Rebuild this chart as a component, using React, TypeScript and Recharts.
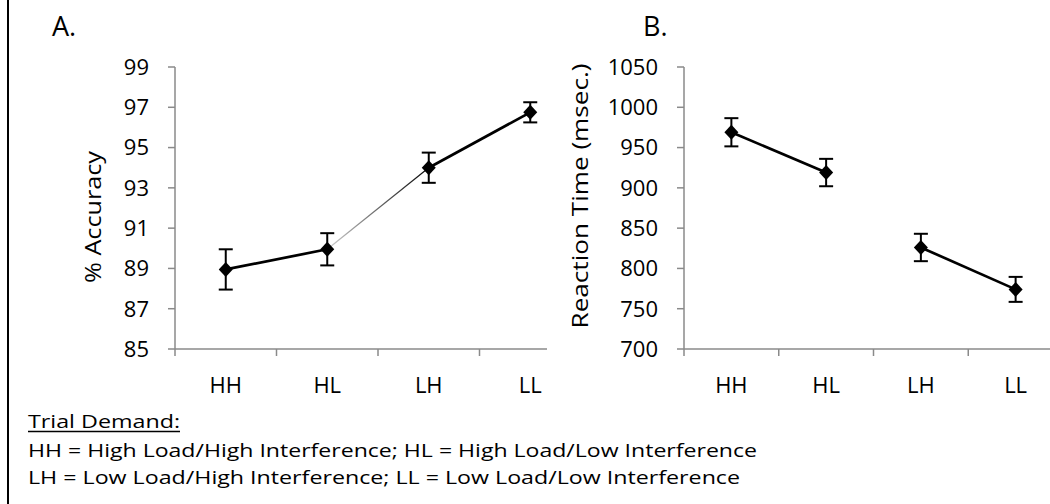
import React from 'react';
import { LineChart, Line, XAxis, YAxis, ErrorBar, Label } from 'recharts';

const categories = ['HH', 'HL', 'LH', 'LL'];

// Panel A: % accuracy with standard error
const accuracyMean = [88.95, 89.95, 94.0, 96.75];
const accuracyErr = [1.0, 0.8, 0.75, 0.5];
const accuracyTicks = [85, 87, 89, 91, 93, 95, 97, 99];

// Panel B: reaction time (msec.) with standard error
const rtMean = [969, 919, 826, 774];
const rtErr = [17.5, 17, 17, 15.5];
const rtTicks = [700, 750, 800, 850, 900, 950, 1000, 1050];

// category boundaries get tick marks, category centres get labels
const xTicks = [0, 0.5, 1, 1.5, 2, 2.5, 3, 3.5, 4];

const AXIS = '#8a8a8a';
const FONT = '"Open Sans", sans-serif';

type Segment = { from: number; to: number; fade?: boolean };

const accuracySegments: Segment[] = [
  { from: 0, to: 1 },
  { from: 1, to: 2, fade: true },
  { from: 2, to: 3 },
];
const rtSegments: Segment[] = [
  { from: 0, to: 1 },
  { from: 2, to: 3 },
];

function buildRows(mean: number[], err: number[], segments: Segment[]) {
  return categories.map((name, i) => {
    const row: Record<string, number | string | null> = { x: i + 0.5, name, mean: mean[i], err: err[i] };
    segments.forEach((s, k) => {
      row['seg' + k] = i === s.from || i === s.to ? mean[i] : null;
    });
    return row;
  });
}

const accuracyRows = buildRows(accuracyMean, accuracyErr, accuracySegments);
const rtRows = buildRows(rtMean, rtErr, rtSegments);

const Diamond = (props: any) => {
  const { cx, cy } = props;
  if (cx == null || cy == null) return null;
  return <path d={`M${cx},${cy - 7.5} L${cx + 7},${cy} L${cx},${cy + 7.5} L${cx - 7},${cy} Z`} fill="#000" />;
};

const CategoryTick = (props: any) => {
  const { x, y, payload } = props;
  const v = payload.value as number;
  if (Number.isInteger(v)) {
    return <line x1={x} y1={y} x2={x} y2={y + 7} stroke={AXIS} strokeWidth={1.5} />;
  }
  return (
    <text x={x} y={y + 44} textAnchor="middle" fontSize={22} fill="#000">
      {categories[Math.floor(v)]}
    </text>
  );
};

function axisTitle(text: string, cx: number, cy: number, length: number) {
  return () => (
    <text
      x={cx}
      y={cy}
      transform={`rotate(-90, ${cx}, ${cy})`}
      textAnchor="middle"
      dominantBaseline="central"
      fontSize={22}
      fill="#000"
      textLength={length}
      lengthAdjust="spacingAndGlyphs"
    >
      {text}
    </text>
  );
}

type PanelProps = {
  rows: any[];
  segments: Segment[];
  domain: [number, number];
  ticks: number[];
  width: number;
  margin: { top: number; right: number; bottom: number; left: number };
  yAxisWidth: number;
  title: () => React.ReactElement;
  gradientId: string;
};

function Panel({ rows, segments, domain, ticks, width, margin, yAxisWidth, title, gradientId }: PanelProps) {
  return (
    <LineChart width={width} height={420} data={rows} margin={margin}>
      <defs>
        <linearGradient id={gradientId} x1="0" y1="0" x2="1" y2="0">
          <stop offset="0%" stopColor="#d0d0d0" />
          <stop offset="100%" stopColor="#000" />
        </linearGradient>
      </defs>
      <XAxis
        type="number"
        dataKey="x"
        domain={[0, 4]}
        ticks={xTicks}
        interval={0}
        tickSize={0}
        tickMargin={0}
        tickLine={false}
        axisLine={{ stroke: AXIS, strokeWidth: 1.5 }}
        tick={CategoryTick}
        height={60}
      />
      <YAxis
        type="number"
        domain={domain}
        ticks={ticks}
        interval={0}
        width={yAxisWidth}
        tickSize={7}
        tickMargin={19}
        tickLine={{ stroke: AXIS, strokeWidth: 1.5 }}
        axisLine={{ stroke: AXIS, strokeWidth: 1.5 }}
        tick={{ fill: '#000', fontSize: 22 }}
      >
        <Label content={title} />
      </YAxis>
      {segments.map((s, k) => (
        <Line
          key={k}
          type="linear"
          dataKey={'seg' + k}
          stroke={s.fade ? `url(#${gradientId})` : '#000'}
          strokeWidth={s.fade ? 1.2 : 2.7}
          dot={false}
          activeDot={false}
          isAnimationActive={false}
        />
      ))}
      <Line
        type="linear"
        dataKey="mean"
        stroke="none"
        dot={<Diamond />}
        activeDot={false}
        isAnimationActive={false}
      >
        <ErrorBar dataKey="err" direction="y" width={7} stroke="#000" strokeWidth={2} />
      </Line>
    </LineChart>
  );
}

export default function App() {
  return (
    <div
      style={{
        position: 'absolute',
        left: 0,
        top: 0,
        width: 1050,
        height: 504,
        overflow: 'hidden',
        background: '#fff',
        fontFamily: FONT,
      }}
    >
      <div style={{ position: 'absolute', left: 7, top: 0, width: 2, height: 504, background: '#000' }} />

      <div style={{ position: 'absolute', left: 0, top: 0 }}>
        <Panel
          rows={accuracyRows}
          segments={accuracySegments}
          domain={[85, 99]}
          ticks={accuracyTicks}
          width={600}
          margin={{ top: 67, right: 19, bottom: 11, left: 75 }}
          yAxisWidth={100}
          title={axisTitle('% Accuracy', 92, 217, 132)}
          gradientId="fadeA"
        />
      </div>

      <div style={{ position: 'absolute', left: 547, top: 0, background: '#fff' }}>
        <Panel
          rows={rtRows}
          segments={rtSegments}
          domain={[700, 1050]}
          ticks={rtTicks}
          width={520}
          margin={{ top: 67, right: 4, bottom: 11, left: 57 }}
          yAxisWidth={80}
          title={axisTitle('Reaction Time (msec.)', 32, 196, 265)}
          gradientId="fadeB"
        />
      </div>

      <svg
        width={1050}
        height={504}
        style={{ position: 'absolute', left: 0, top: 0, pointerEvents: 'none' }}
        fontFamily={FONT}
      >
        <text x={52} y={36} fontSize={27} fill="#000">A.</text>
        <text x={643} y={36} fontSize={27} fill="#000">B.</text>

        <text x={28} y={428} fontSize={18} fill="#000" textLength={152} lengthAdjust="spacingAndGlyphs">
          Trial Demand:
        </text>
        <line x1={28} y1={431.5} x2={180} y2={431.5} stroke="#000" strokeWidth={1.3} />
        <text x={28} y={456.5} fontSize={18} fill="#000" textLength={729} lengthAdjust="spacingAndGlyphs">
          HH = High Load/High Interference; HL = High Load/Low Interference
        </text>
        <text x={28} y={484} fontSize={18} fill="#000" textLength={712} lengthAdjust="spacingAndGlyphs">
          LH = Low Load/High Interference; LL = Low Load/Low Interference
        </text>
      </svg>
    </div>
  );
}
